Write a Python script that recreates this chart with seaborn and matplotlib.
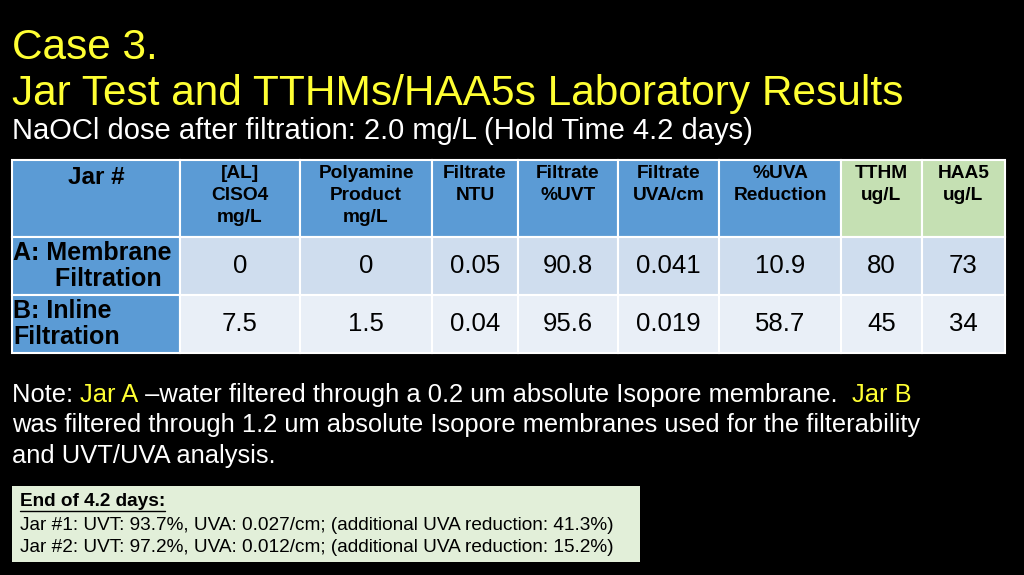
import matplotlib
matplotlib.use("Agg")
import matplotlib.pyplot as plt
from matplotlib.patches import Rectangle
import seaborn as sns

sns.set_theme(style="white")
plt.rcParams["font.family"] = ["Liberation Sans", "DejaVu Sans"]

# data
headers = ["Jar #", "[AL]\nClSO4\nmg/L", "Polyamine\nProduct\nmg/L", "Filtrate\nNTU",
           "Filtrate\n%UVT", "Filtrate\nUVA/cm", "%UVA\nReduction", "TTHM\nug/L", "HAA5\nug/L"]
row_labels = ["A: Membrane\n      Filtration", "B: Inline\nFiltration"]
row_a = ["0", "0", "0.05", "90.8", "0.041", "10.9", "80", "73"]
row_b = ["7.5", "1.5", "0.04", "95.6", "0.019", "58.7", "45", "34"]
col_edges = [12, 180, 300, 432, 518, 618, 719, 841, 922, 1005]
row_edges = [160, 237, 295, 353]

fig = plt.figure(figsize=(10.24, 5.75), dpi=100, facecolor="black")
ax = fig.add_axes([0, 0, 1, 1])
ax.set_xlim(0, 1024)
ax.set_ylim(575, 0)
ax.axis("off")
ax.set_facecolor("black")

ax.text(12, 48, "Case 3.", color="#FFFF33", fontsize=30.5, va="center")
ax.text(12, 94, "Jar Test and TTHMs/HAA5s Laboratory Results", color="#FFFF33", fontsize=30.5, va="center")
ax.text(12, 131, "NaOCl dose after filtration: 2.0 mg/L (Hold Time 4.2 days)", color="white", fontsize=21, va="center")

blue, green = "#5B9BD5", "#C5E0B3"
light_a, light_b = "#CFDDEE", "#E9EFF7"
for j in range(9):
    x0, x1 = col_edges[j], col_edges[j + 1]
    ax.add_patch(Rectangle((x0, row_edges[0]), x1 - x0, row_edges[1] - row_edges[0],
                           facecolor=green if j >= 7 else blue, edgecolor="white", lw=1.5))
    if j == 0:
        ax.text((x0 + x1) / 2, 178, headers[j], ha="center", va="center", fontsize=17.5, fontweight="bold", color="black")
    else:
        ax.text((x0 + x1) / 2, 165, headers[j], ha="center", va="top", fontsize=13.8, fontweight="bold",
                color="black", linespacing=1.4)
    for i, vals in enumerate([row_a, row_b]):
        y0, y1 = row_edges[i + 1], row_edges[i + 2]
        fc = blue if j == 0 else (light_a if i == 0 else light_b)
        ax.add_patch(Rectangle((x0, y0), x1 - x0, y1 - y0, facecolor=fc, edgecolor="white", lw=1.5))
        if j == 0:
            ax.text(x0 + 1, (y0 + y1) / 2, row_labels[i], ha="left", va="center", fontsize=18,
                    fontweight="bold", color="black", linespacing=1.1)
        else:
            ax.text((x0 + x1) / 2, (y0 + y1) / 2, vals[j - 1], ha="center", va="center", fontsize=18.5, color="black")

# note with coloured parts
fig.canvas.draw()
r = fig.canvas.get_renderer()
parts = [("Note: ", "white"), ("Jar A", "#FFFF33"),
         (" \u2013water filtered through a 0.2 um absolute Isopore membrane.  ", "white"), ("Jar B", "#FFFF33")]
x = 12
for s, c in parts:
    t = ax.text(x, 395, s, color=c, fontsize=18.4, va="center")
    bb = t.get_window_extent(r)
    x += bb.width
ax.text(12, 425, "was filtered through 1.2 um absolute Isopore membranes used for the filterability",
        color="white", fontsize=18.4, va="center")
ax.text(12, 456, "and UVT/UVA analysis.", color="white", fontsize=18.4, va="center")

ax.add_patch(Rectangle((12, 486), 628, 76, facecolor="#E2EFD9", edgecolor="none"))
h = ax.text(20, 502, "End of 4.2 days:", fontsize=13.7, fontweight="bold", color="black", va="center")
hw = h.get_window_extent(r).width
ax.plot([20, 20 + hw], [511, 511], color="black", lw=1)
ax.text(20, 525, "Jar #1: UVT: 93.7%, UVA: 0.027/cm; (additional UVA reduction: 41.3%)", fontsize=13.7, color="black", va="center")
ax.text(20, 548, "Jar #2: UVT: 97.2%, UVA: 0.012/cm; (additional UVA reduction: 15.2%)", fontsize=13.7, color="black", va="center")

fig.savefig("out.png", dpi=100, facecolor="black")
